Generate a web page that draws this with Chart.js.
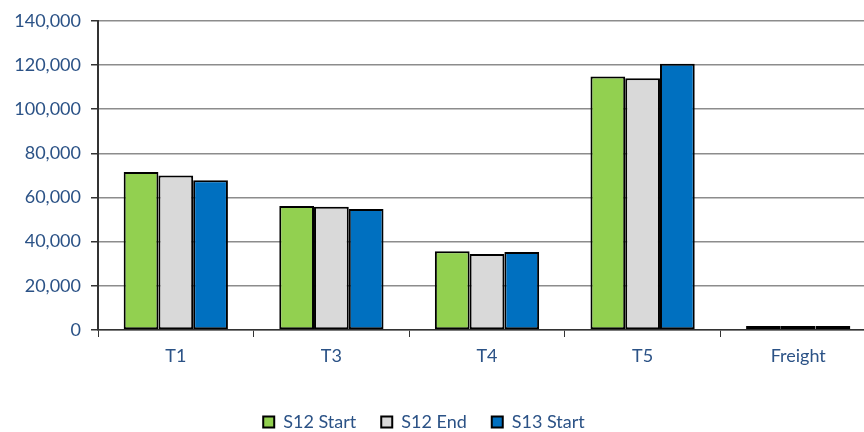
<!DOCTYPE html>
<html>
<head>
<meta charset="utf-8">
<script src="https://cdn.jsdelivr.net/npm/chart.js@4/dist/chart.umd.min.js"></script>
<style>
html,body{margin:0;padding:0;background:#fff;overflow:hidden;}
#wrap{width:864px;height:432px;position:relative;overflow:hidden;}
</style>
</head>
<body>
<div id="wrap"><canvas id="c" width="876" height="432"></canvas></div>
<script>
const categories = ["T1", "T3", "T4", "T5", "Freight"];
const s12Start = [71500, 56200, 35700, 114800, 1800];
const s12End   = [70000, 55800, 34400, 114000, 1800];
const s13Start = [67800, 54800, 35300, 120500, 1800];
const seriesNames = ["S12 Start", "S12 End", "S13 Start"];
const seriesColors = ["#92d050", "#d9d9d9", "#0070c0"];
const yTicks = [0, 20000, 40000, 60000, 80000, 100000, 120000, 140000];

const textColor = "#2b5286";
const fontFamily = "Lato, 'Open Sans', sans-serif";

// shift the legend slightly left (the reference plot runs past the right edge)
const legendShift = {
  id: 'legendShift',
  afterLayout(chart) {
    const lg = chart.legend;
    if (lg) { lg.left -= 14; lg.right -= 14; }
  }
};

new Chart(document.getElementById('c'), {
  type: 'bar',
  data: {
    labels: categories,
    datasets: [s12Start, s12End, s13Start].map((d, i) => ({
      label: seriesNames[i],
      data: d,
      backgroundColor: seriesColors[i],
      borderColor: '#000',
      borderWidth: 2,
      borderSkipped: false,
      barPercentage: 1.0,
      categoryPercentage: 0.67
    }))
  },
  plugins: [legendShift],
  options: {
    responsive: false,
    animation: false,
    devicePixelRatio: 1,
    layout: { padding: { top: 11, right: 0, left: 0, bottom: -9 } },
    plugins: {
      tooltip: { enabled: false },
      legend: {
        position: 'bottom',
        labels: {
          color: textColor,
          font: { family: fontFamily, size: 18 },
          boxWidth: 11,
          boxHeight: 11,
          padding: 25,
          generateLabels: (chart) => chart.data.datasets.map((ds, i) => ({
            text: ds.label,
            fillStyle: ds.backgroundColor,
            strokeStyle: '#000',
            lineWidth: 2,
            fontColor: textColor,
            datasetIndex: i
          }))
        }
      }
    },
    scales: {
      x: {
        grid: {
          display: true,
          drawOnChartArea: false,
          drawTicks: true,
          tickLength: 7,
          color: '#333',
          offset: true
        },
        border: { color: '#333', width: 1.5 },
        ticks: {
          color: textColor,
          font: { family: fontFamily, size: 18 },
          padding: 8
        },
        afterFit: (s) => { s.height = 58; }
      },
      y: {
        min: 0,
        max: 140000,
        afterBuildTicks: (s) => { s.ticks = yTicks.map(v => ({ value: v })); },
        grid: {
          color: '#8c8c8c',
          lineWidth: 1.5,
          tickLength: 7,
          tickColor: '#333'
        },
        border: { color: '#333', width: 2 },
        ticks: {
          color: textColor,
          font: { family: fontFamily, size: 18 },
          padding: 10,
          callback: (v) => v.toLocaleString('en-US')
        },
        afterFit: (s) => { s.width = 98; }
      }
    }
  }
});
</script>
</body>
</html>
